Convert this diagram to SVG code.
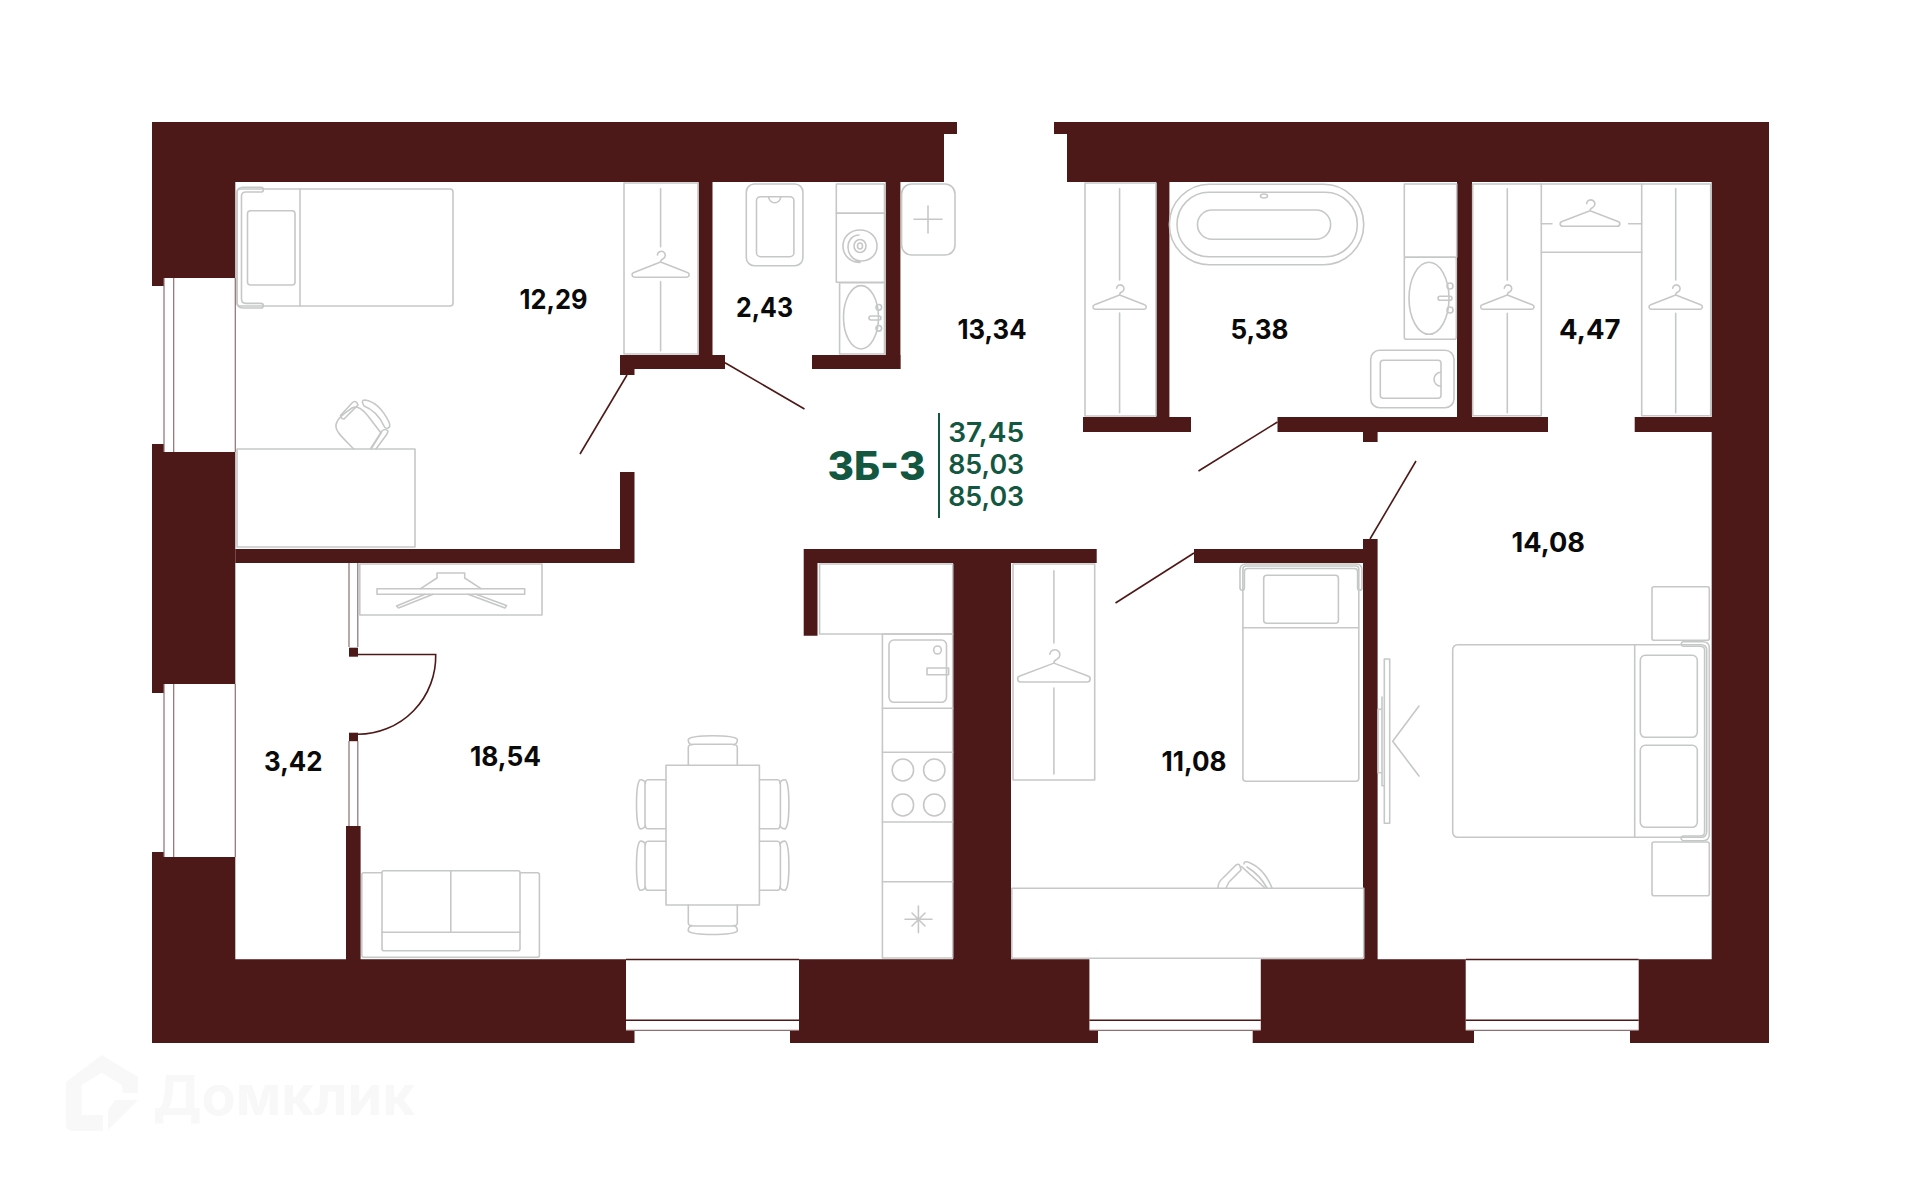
<svg xmlns="http://www.w3.org/2000/svg" width="1920" height="1184" viewBox="0 0 1920 1184">
<style>
.w{fill:#4d1818}
.f,.f *{fill:none;stroke:#c6c8c8;stroke-width:1.6;stroke-linecap:round;stroke-linejoin:round}
.g{fill:none;stroke:#8f6f6f;stroke-width:1.2}
.d{fill:none;stroke:#4d1818;stroke-width:1.6}
.a{font-family:Inter,"Liberation Sans",sans-serif;font-size:27px;font-weight:650;fill:#0a0a0a}
.n{font-family:Inter,"Liberation Sans",sans-serif;font-size:27px;font-weight:600;fill:#145741}
</style>
<defs>
<g id="hanger"><path vector-effect="non-scaling-stroke" d="M-3,4 A3.7,3.7 0 1 1 2.5,7.5 Q0,8.5 0,10.7 L25,20.5 A2.3,2.3 0 0 1 24.5,25 L-24.5,25 A2.3,2.3 0 0 1 -25,20.5 L0,10.7"/></g>
<g id="dchair"><path d="M-24.5,0 V-18 Q-24.5,-21 -19,-21 H19 Q24.5,-21 24.5,-18 V0"/><path d="M-21,-20.5 Q-25,-22 -24.5,-26 Q-21,-29.5 0,-29.5 Q21,-29.5 24.5,-26 Q25,-22 21,-20.5"/></g>
</defs>

<g id="walls">
<path class="w" d="M152,122H944V182H712.5V355H725V369H634.5V375H620V355H698.5V182H235.3V278H164V286H152Z"/>
<path class="w" d="M944,122H957V134H944Z"/>
<path class="w" d="M1054,122H1769V1043H1630V1030H1638.7V959.3H1711.7V432H1634.7V417H1711.7V182H1472V417H1548V432H1377.6V442H1363V432H1277.5V417H1457V182H1169.4V417H1191V432H1083V417H1156V182H1067V134H1054Z"/>
<rect class="w" x="885.7" y="182" width="14.7" height="187"/>
<rect class="w" x="812" y="355" width="88.4" height="14"/>
<path class="w" d="M152,444H164V452H235.3V684H164V693H152Z"/>
<path class="w" d="M152,852H164V857H235.3V959.3H626V1030H634.5V1043H152Z"/>
<path class="w" d="M799,959.3H953V549H803.7V635.7H817.5V563H953V549H1096.7V563H1011V959.3H1089.4V1030H1098V1043H790V1030H799Z"/>
<path class="w" d="M1194,549H1363V539H1377.6V959.3H1465.7V1030H1474V1043H1252.7V1030H1260.8V959.3H1363V563H1194Z"/>
<path class="w" d="M235.3,549H620V472H634.5V563H235.3Z"/>
<rect class="w" x="349" y="647.7" width="9" height="9"/>
<rect class="w" x="349" y="732.7" width="9" height="8.5"/>
<rect class="w" x="346" y="826" width="14.6" height="134"/>
</g>

<g id="windows">
<path class="g" d="M164,278V452M173.7,278V452M235.3,278V452M164,684V857M173.7,684V857M235.3,684V857"/>
<path class="g" d="M349,563V647M357.8,563V647M349,741V826M357.8,741V826"/>
<path class="d" d="M626,959.5H799M1465.7,959.5H1638.7"/>
<path class="d" d="M626,1020.3H799M1089.4,1020.3H1260.8M1465.7,1020.3H1638.7"/>
<path class="g" d="M626,1030.3H799M1089.4,1030.3H1260.8M1465.7,1030.3H1638.7"/>
</g>

<g id="doors">
<path class="d" d="M627,375L580,454"/>
<path class="d" d="M725,362.7L804.5,409"/>
<path class="d" d="M1277.5,422L1198.5,471"/>
<path class="d" d="M1416,461L1370,539"/>
<path class="d" d="M1194,553L1115.5,603"/>
<path class="d" d="M358,654.5H435.7A78,78 0 0 1 358,734.3"/>
</g>

<g id="bed-1" class="f">
<rect x="237" y="189" width="216" height="117" rx="3"/>
<path d="M300,189V306"/>
<rect x="247.5" y="210.7" width="47.5" height="74.3" rx="3"/>
<path d="M261,187.3H243Q237,187.3 237,193V302Q237,308 243,308H261A2.3,2.3 0 0 0 261,303.4H246Q241.5,303.4 241.5,299V196Q241.5,192 246,192H261A2.3,2.3 0 0 0 261,187.3Z"/>
</g>
<g id="wardrobe-1" class="f">
<rect x="624" y="183" width="74" height="171"/>
<path d="M660.6,188.7V246.7M660.6,281.7V350.7"/>
<use href="#hanger" transform="translate(660.6,250.7) scale(1.07,1.06)"/>
</g>
<g id="desk-1" class="f">
<rect x="237" y="449" width="178" height="98"/>
<path d="M353.7,449C342,437 335,431 336,425C337,418 345,413 352,408C358,405 363,410 368,416L381,433L371,449"/>
<path d="M340.5,415.5L352,403Q355,400 357,403L358,405L344,419Q341,419 340.5,415.5Z"/>
<path d="M363,404Q361,400 365,400Q379,402 389,422Q391,427 388,428Q385,429 384,426Q377,411 364,406Z"/>
<path d="M371,448L382,431Q385,428 388,431L387,434L376,449"/>
</g>
<g id="wc-1" class="f">
<rect x="746.3" y="184" width="56.6" height="81.7" rx="8"/>
<rect x="756.5" y="196.7" width="37.4" height="60" rx="4"/>
<path d="M768.7,196.7A6,6 0 0 0 780.7,196.7"/>
</g>
<g id="bath-column" class="f">
<rect x="836.3" y="184" width="48.2" height="29.3"/>
<rect x="836.3" y="213.3" width="48.2" height="69"/>
<path d="M860,262.5C850,262.5 843,255 843,246C843,237 850,230 860,230C870,230 877,237 877,246C877,255 870,261 861,261C853,261 848,254 848,247C848,240 853,235 859,235"/>
<ellipse cx="860" cy="246" rx="6" ry="6.5"/>
<ellipse cx="860" cy="246" rx="2.5" ry="3"/>
<rect x="839.6" y="282.7" width="44.9" height="71.3"/>
<ellipse cx="861" cy="317.3" rx="17.5" ry="31.7"/>
<rect x="869" y="316" width="12" height="4" rx="2"/>
<circle cx="878.8" cy="307.3" r="2.8"/>
<circle cx="878.8" cy="328.3" r="2.8"/>
</g>
<g id="basin-plus" class="f">
<rect x="901.6" y="184" width="53.4" height="71" rx="10"/>
<path d="M914,219.3H942M928,206V233"/>
</g>
<g id="wardrobe-2" class="f">
<rect x="1085" y="183" width="71" height="233"/>
<path d="M1119.6,188.7V280M1119.6,313V412.7"/>
<use href="#hanger" transform="translate(1119.6,284.3)"/>
</g>
<g id="bathtub" class="f">
<rect x="1169.4" y="184.3" width="194.3" height="80.4" rx="40"/>
<rect x="1177" y="192.3" width="180.3" height="64.4" rx="32"/>
<rect x="1197.5" y="210" width="133.1" height="29.3" rx="14.5"/>
<ellipse cx="1264" cy="196" rx="3.5" ry="2"/>
</g>
<g id="bath-right" class="f">
<rect x="1404.3" y="184" width="52.4" height="73.3"/>
<rect x="1404.3" y="257.3" width="52" height="82" rx="2"/>
<ellipse cx="1429" cy="298.3" rx="20" ry="36"/>
<rect x="1438" y="296.3" width="14" height="4" rx="2"/>
<circle cx="1450" cy="286" r="3"/>
<circle cx="1450" cy="310" r="3"/>
<rect x="1370.7" y="350.3" width="83.3" height="57.4" rx="9"/>
<rect x="1380.3" y="360.3" width="60.7" height="38" rx="3"/>
<path d="M1441,372.3A7,7 0 0 0 1441,386.3"/>
</g>
<g id="wardrobes-3" class="f">
<rect x="1472.7" y="184" width="68.6" height="231.7"/>
<rect x="1641.7" y="184" width="69" height="231.7"/>
<path d="M1541.3,184H1641.7M1541.3,252.3H1641.7"/>
<path d="M1507.3,188.7V280M1507.3,313.3V412.7M1675.7,188.7V280M1675.7,313.3V412.7"/>
<path d="M1541.3,223.7H1552M1628.7,223.7H1641.7"/>
<use href="#hanger" transform="translate(1507.3,284.3)"/>
<use href="#hanger" transform="translate(1675.7,284.3)"/>
<use href="#hanger" transform="translate(1590,199.3) scale(1.12,1.08)"/>
</g>
<g id="tv-unit" class="f">
<rect x="359.8" y="564" width="182.2" height="51"/>
<rect x="377" y="588.7" width="147.7" height="5.6"/>
<path d="M420.6,588.7L437,578V573H464.7V578L481,588.7"/>
<path d="M425,594.3L396.5,606L398.5,608L433,594.3M468,594.3L505,608L506.5,605.5L476,594.3"/>
</g>
<g id="sofa" class="f">
<rect x="361.8" y="872.7" width="177.6" height="84.6" rx="2"/>
<rect x="382" y="870.7" width="138" height="80" rx="2" style="fill:#fff"/>
<path d="M450.8,870.7V932.3M382,932.3H520"/>
</g>
<g id="table" class="f">
<use href="#dchair" transform="translate(712.8,765.3)"/>
<use href="#dchair" transform="translate(712.8,905) rotate(180)"/>
<use href="#dchair" transform="translate(666,804.3) rotate(-90)"/>
<use href="#dchair" transform="translate(666,865.7) rotate(-90)"/>
<use href="#dchair" transform="translate(759.4,804.3) rotate(90)"/>
<use href="#dchair" transform="translate(759.4,865.7) rotate(90)"/>
<rect x="666" y="765.3" width="93.4" height="139.7"/>
</g>
<g id="kitchen" class="f">
<rect x="819.6" y="564" width="133.1" height="70"/>
<rect x="882.4" y="634" width="70.3" height="324"/>
<path d="M882.4,708.3H952.7M882.4,752.3H952.7M882.4,822H952.7M882.4,881.7H952.7"/>
<rect x="889" y="640" width="57.5" height="62.3" rx="5"/>
<rect x="927" y="668" width="21.6" height="6.7"/>
<ellipse cx="937.5" cy="650" rx="3.8" ry="4"/>
<ellipse cx="902.9" cy="770" rx="10.7" ry="11"/>
<ellipse cx="934.3" cy="770" rx="10.7" ry="11"/>
<ellipse cx="902.9" cy="805" rx="10.7" ry="11"/>
<ellipse cx="934.3" cy="805" rx="10.7" ry="11"/>
<path d="M905,919.3H932M918.4,906V932.6M912,913L925,926M925,913L912,926"/>
</g>
<g id="wardrobe-4" class="f">
<rect x="1013" y="564" width="81.7" height="216"/>
<path d="M1053.9,570.7V643M1053.9,688V774"/>
<use href="#hanger" transform="translate(1053.9,649) scale(1.36,1.32)"/>
</g>
<g id="bed-2" class="f">
<rect x="1242.9" y="566" width="115.9" height="215.3" rx="3"/>
<path d="M1242.9,627.7H1358.8"/>
<rect x="1263.7" y="575.3" width="74.7" height="48" rx="3"/>
<path d="M1240,588V570Q1240,564 1246,564H1356Q1362,564 1362,570V588A2.2,2.2 0 0 1 1357.6,588V572Q1357.6,568.5 1354,568.5H1248Q1244.4,568.5 1244.4,572V588A2.2,2.2 0 0 1 1240,588Z"/>
</g>
<g id="desk-2" class="f">
<rect x="1011.8" y="888.3" width="351.9" height="70"/>
<path d="M1218,888Q1218,882 1223,878L1236,865Q1239,863 1240,866L1241,870L1229,882L1226,888"/>
<path d="M1241.6,866.7L1265,888"/>
<path d="M1244,864Q1244,861 1248,862Q1264,868 1272,888M1247,867Q1260,875 1267,888"/>
</g>
<g id="tv-2" class="f">
<rect x="1384.3" y="659" width="5.4" height="164.3"/>
<path d="M1382,697V785.7H1384.3M1382,709.3H1378V772.7H1382"/>
<path d="M1419,706L1392.7,741.3L1419,776"/>
</g>
<g id="bed-3" class="f">
<rect x="1452.7" y="644.7" width="254" height="192.6" rx="5"/>
<path d="M1634.7,644.7V837.3"/>
<rect x="1640.3" y="655.3" width="57" height="82" rx="5"/>
<rect x="1640.3" y="745.3" width="57" height="82" rx="5"/>
<path d="M1683,641.7H1703Q1709.3,641.7 1709.3,648V834Q1709.3,840.7 1703,840.7H1683A2.4,2.4 0 0 1 1683,836H1700Q1704.6,836 1704.6,832V650Q1704.6,646.3 1700,646.3H1683A2.4,2.4 0 0 1 1683,641.7Z"/>
<rect x="1652" y="586.7" width="57.3" height="53.6" rx="2"/>
<rect x="1652" y="842" width="57.3" height="53.7" rx="2"/>
</g>

<g id="labels">
<text class="a" x="519.5" y="309" textLength="68" lengthAdjust="spacingAndGlyphs">12,29</text>
<text class="a" x="736" y="316.5" textLength="57" lengthAdjust="spacingAndGlyphs">2,43</text>
<text class="a" x="957.5" y="338.5" textLength="69" lengthAdjust="spacingAndGlyphs">13,34</text>
<text class="a" x="1230.5" y="338.5" textLength="58" lengthAdjust="spacingAndGlyphs">5,38</text>
<text class="a" x="1559" y="338.5" textLength="61.5" lengthAdjust="spacingAndGlyphs">4,47</text>
<text class="a" x="1511.5" y="551.5" textLength="73.5" lengthAdjust="spacingAndGlyphs">14,08</text>
<text class="a" x="264" y="770.5" textLength="58.5" lengthAdjust="spacingAndGlyphs">3,42</text>
<text class="a" x="470" y="766" textLength="71" lengthAdjust="spacingAndGlyphs">18,54</text>
<text class="a" x="1161.5" y="771" textLength="65" lengthAdjust="spacingAndGlyphs">11,08</text>
</g>
<g id="title">
<text x="827.5" y="480" textLength="98" lengthAdjust="spacingAndGlyphs" style="font-family:Inter,'Liberation Sans',sans-serif;font-size:40px;font-weight:800;fill:#145741">3Б-3</text>
<rect x="938" y="413" width="2" height="105" fill="#145741"/>
<text class="n" x="948.2" y="441.5" textLength="76" lengthAdjust="spacingAndGlyphs">37,45</text>
<text class="n" x="948.2" y="474" textLength="76" lengthAdjust="spacingAndGlyphs">85,03</text>
<text class="n" x="948.2" y="506" textLength="76" lengthAdjust="spacingAndGlyphs">85,03</text>
</g>
<g id="watermark" fill="#f8f8f8">
<path d="M66,1082L101.7,1055L138,1077V1093H123L121.7,1085L101.7,1072.7L81.7,1085V1115H103V1130.7H72Q66,1130.7 66,1125Z"/>
<path d="M108,1130V1110L115,1100H138Z"/>
<text x="153" y="1115" textLength="262" lengthAdjust="spacingAndGlyphs" style="font-family:Inter,'Liberation Sans',sans-serif;font-size:55px;font-weight:700">Домклик</text>
</g>
</svg>
